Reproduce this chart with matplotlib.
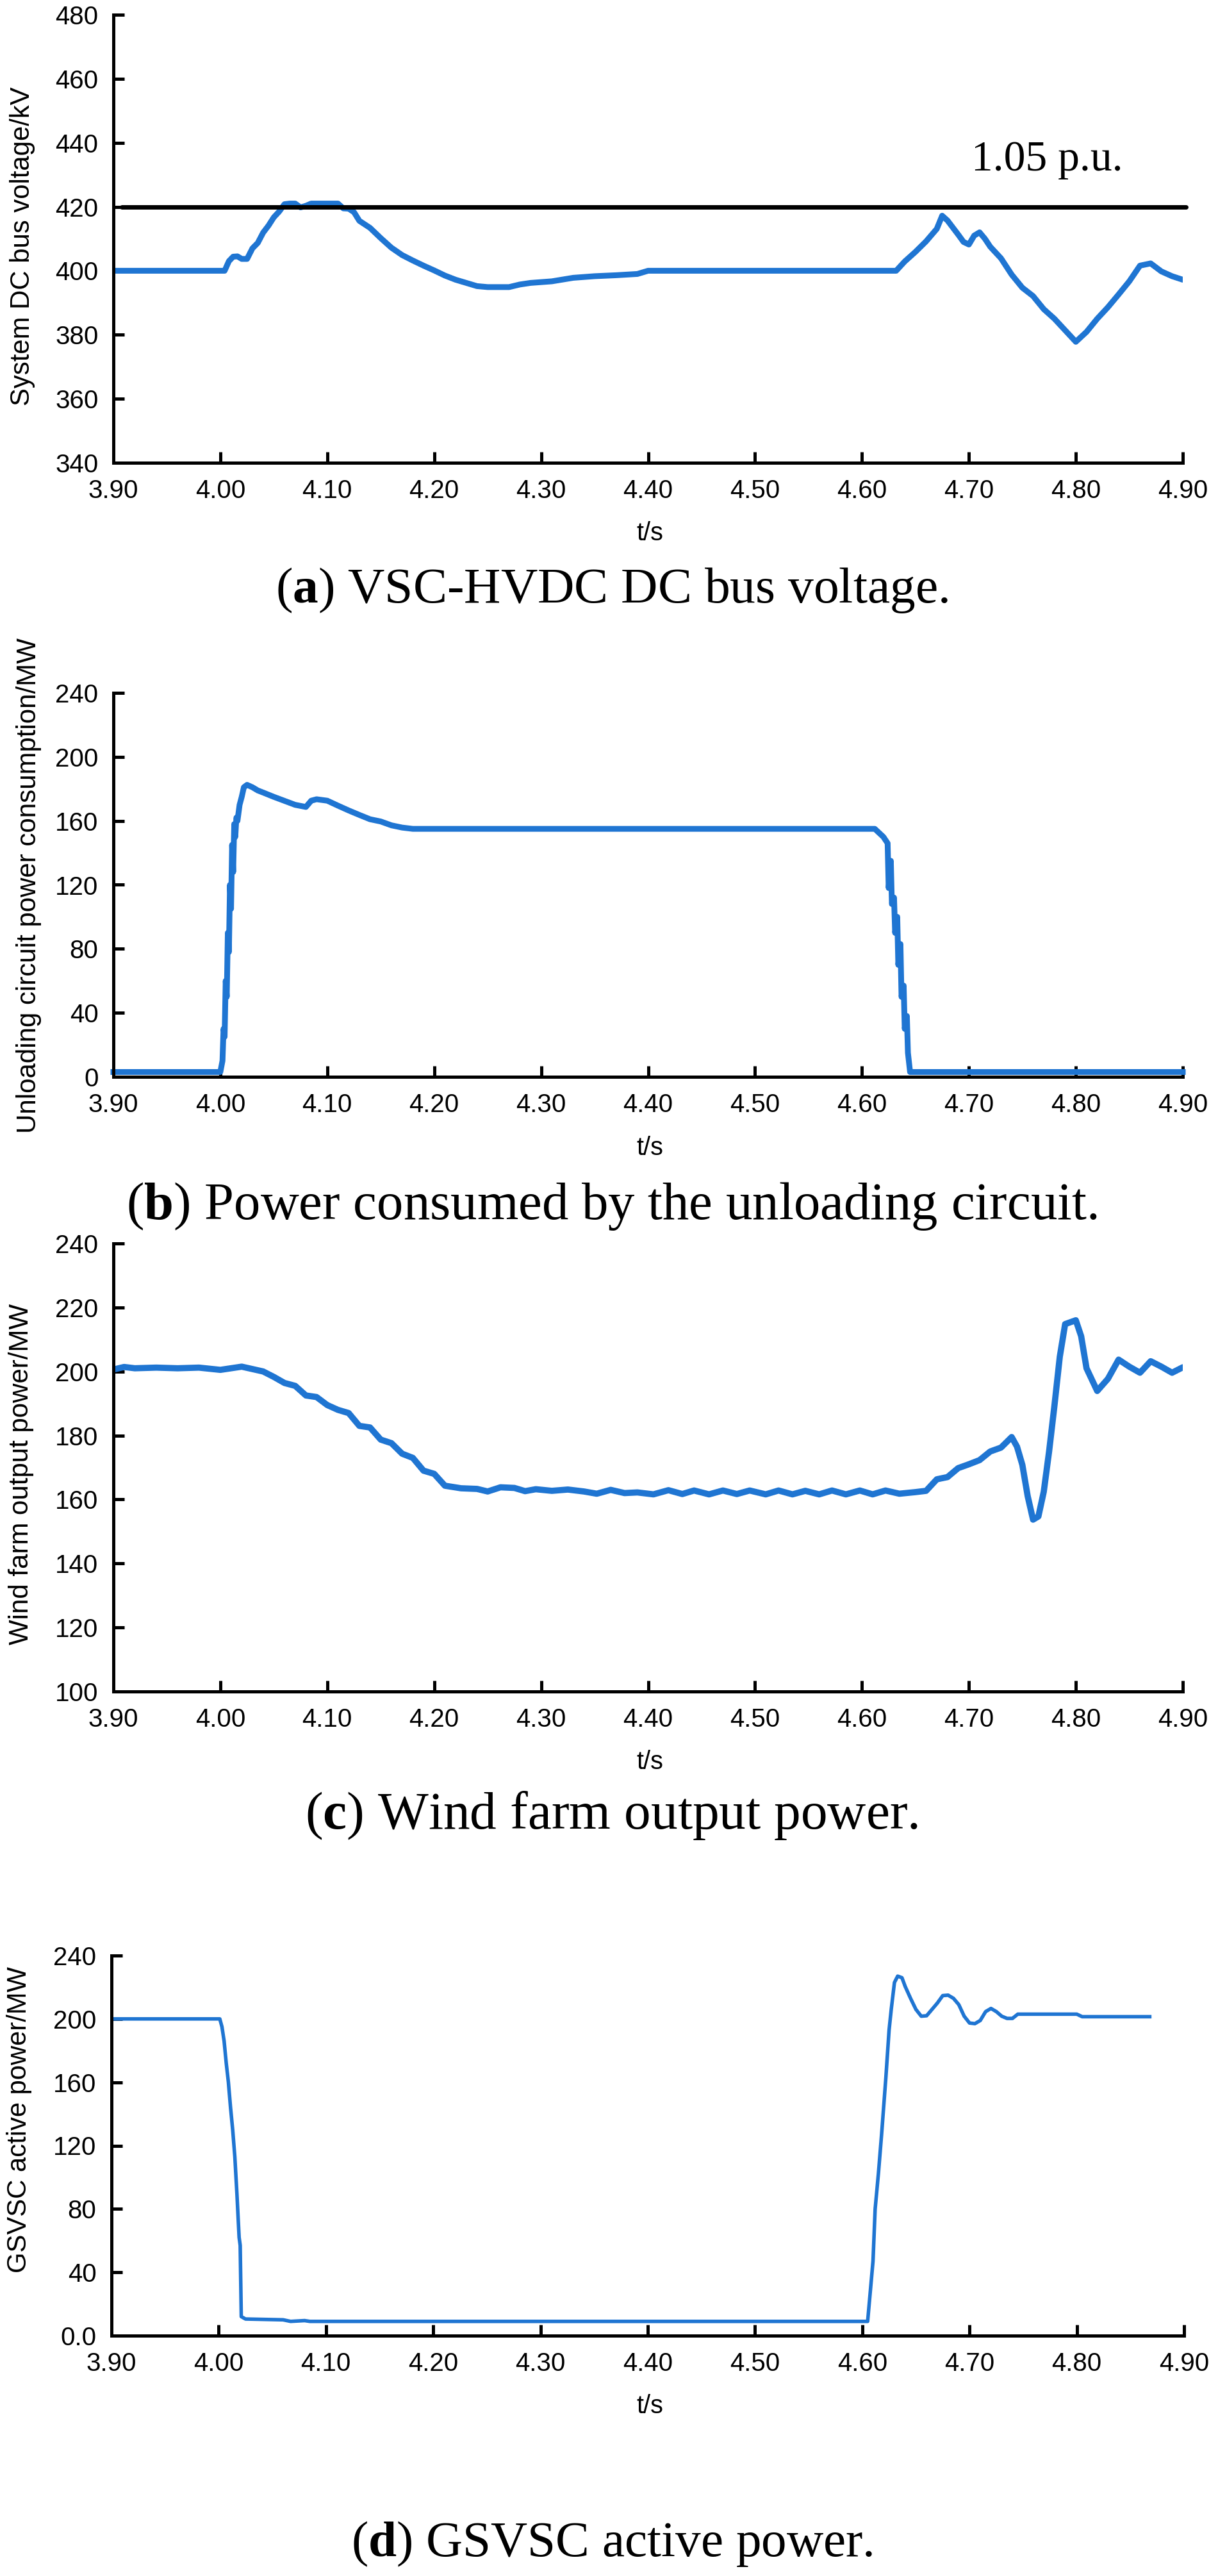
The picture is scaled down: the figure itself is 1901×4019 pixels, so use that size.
import matplotlib
matplotlib.use('Agg')
import matplotlib.pyplot as plt
import numpy as np

plt.rcParams['font.family'] = ['Liberation Sans', 'DejaVu Sans']
plt.rcParams['mathtext.fontset'] = 'custom'
plt.rcParams['mathtext.rm'] = 'Liberation Serif'
plt.rcParams['mathtext.bf'] = 'Liberation Serif:bold'

# (a) DC bus voltage, kV
t_a = [3.90, 4.004, 4.008, 4.012, 4.016, 4.020, 4.025, 4.030, 4.035, 4.040, 4.045, 4.050, 4.055,
       4.060, 4.065, 4.070, 4.075, 4.080, 4.085, 4.100, 4.110, 4.115, 4.120, 4.125, 4.130, 4.140,
       4.150, 4.160, 4.170, 4.180, 4.190, 4.200, 4.210, 4.220, 4.230, 4.240, 4.250, 4.270, 4.280,
       4.290, 4.310, 4.330, 4.350, 4.370, 4.390, 4.400, 4.632, 4.640, 4.650, 4.660, 4.670, 4.675,
       4.680, 4.690, 4.695, 4.700, 4.705, 4.710, 4.715, 4.720, 4.730, 4.740, 4.750, 4.760, 4.770,
       4.780, 4.790, 4.800, 4.810, 4.820, 4.830, 4.840, 4.850, 4.860, 4.870, 4.880, 4.890, 4.900]
v_a = [400, 400, 403, 404.4, 404.5, 403.7, 403.7, 407, 408.7, 411.9, 414.1, 416.7, 418.5,
       420.8, 421, 421, 419.8, 420.3, 421, 421, 421, 419.5, 419.4, 418.3, 415.6, 413.4,
       410.2, 407.2, 404.9, 403.2, 401.6, 400.1, 398.5, 397.2, 396.2, 395.2, 394.9, 394.9, 395.7,
       396.2, 396.7, 397.8, 398.3, 398.6, 399, 400, 400, 402.9, 405.9, 409.2, 413.1, 417.2,
       415.7, 411.3, 409, 408.2, 411, 412, 410, 407.5, 403.9, 398.8, 394.7, 392.1, 388,
       385, 381.4, 377.8, 380.9, 385, 388.6, 392.6, 396.7, 401.6, 402.3, 399.8, 398.3, 397.2]
limit_a = 420

# (b) unloading circuit power, MW
t_b = [3.90, 4.000, 4.002, 4.003, 4.004, 4.005, 4.006, 4.007, 4.008, 4.009, 4.010, 4.011, 4.012,
       4.013, 4.014, 4.015, 4.016, 4.018, 4.020, 4.022, 4.025, 4.030, 4.035, 4.040, 4.050, 4.060,
       4.070, 4.080, 4.085, 4.090, 4.100, 4.110, 4.120, 4.130, 4.140, 4.150, 4.160, 4.170, 4.180,
       4.190, 4.612, 4.620, 4.624, 4.625, 4.627, 4.628, 4.630, 4.631, 4.633, 4.634, 4.636, 4.637,
       4.639, 4.640, 4.642, 4.643, 4.645, 4.900]
v_b = [3, 3, 10, 30, 25, 60, 50, 90, 78, 120, 105, 145, 128,
       158, 150, 162, 160, 170, 175, 181, 182.5, 181, 179, 177.7, 175, 172.5,
       170, 168.7, 172.6, 173.5, 172.6, 169.5, 166.5, 163.7, 161, 159.6, 157.2, 155.8, 155,
       155, 155, 150, 146, 118, 135, 108, 112, 90, 100, 70, 83, 50,
       57, 30, 38, 15, 3, 3]

# (c) wind farm output power, MW
t_c = [3.900, 3.910, 3.920, 3.940, 3.960, 3.980, 4.000, 4.020, 4.040, 4.050, 4.060, 4.070, 4.080,
       4.090, 4.100, 4.110, 4.120, 4.130, 4.140, 4.150, 4.160, 4.170, 4.180, 4.190, 4.200, 4.210,
       4.225, 4.240, 4.250, 4.262, 4.275, 4.285, 4.295, 4.310, 4.325, 4.340, 4.352, 4.365, 4.378,
       4.390, 4.405, 4.419, 4.432, 4.443, 4.457, 4.470, 4.483, 4.495, 4.510, 4.522, 4.535, 4.547,
       4.560, 4.572, 4.585, 4.598, 4.610, 4.622, 4.635, 4.650, 4.660,
       4.670, 4.680, 4.690, 4.700,
       4.710, 4.720, 4.730, 4.740, 4.745, 4.750, 4.755, 4.760, 4.765, 4.770, 4.775, 4.780, 4.785,
       4.790, 4.800, 4.805, 4.810, 4.820, 4.830, 4.840, 4.850, 4.860, 4.870, 4.880, 4.890, 4.900]
v_c = [200.6, 201.4, 201, 201.2, 201, 201.2, 200.5, 201.5, 200, 198.3, 196.4, 195.5, 192.5,
       192, 189.5, 188, 187, 183, 182.5, 178.7, 177.6, 174.3, 173, 169, 168, 164.3,
       163.5, 163.3, 162.5, 163.8, 163.6, 162.6, 163.2, 162.7, 163.1, 162.5, 161.8, 163.0, 162.0,
       162.2, 161.6, 162.9, 161.7, 162.8, 161.6, 162.8, 161.7, 162.8, 161.6, 162.8, 161.6, 162.7,
       161.6, 162.8, 161.6, 162.8, 161.6, 162.8, 161.8, 162.3, 162.7,
       166.3, 167, 169.8, 171,
       172.3, 175, 176.2, 179.5, 176.5, 170.8, 161, 153.7, 154.7, 162.4, 175, 189.3, 204.6,
       214.8, 216, 211, 201, 193.9, 197.7, 203.7, 201.5, 199.6, 203.2, 201.5, 199.6, 201.3]

# (d) GSVSC active power, MW
t_d = [3.900, 4.001, 4.003, 4.005, 4.007, 4.009, 4.011, 4.013, 4.015, 4.017, 4.019, 4.020, 4.021,
       4.025, 4.060, 4.067, 4.080, 4.085, 4.605, 4.610, 4.612, 4.615, 4.618, 4.620, 4.622, 4.625,
       4.627, 4.630, 4.633, 4.637, 4.640, 4.645, 4.650, 4.655, 4.660, 4.665, 4.670, 4.675, 4.680,
       4.685, 4.690, 4.695, 4.700, 4.705, 4.710, 4.715, 4.720, 4.725, 4.730, 4.735, 4.740, 4.745,
       4.800, 4.805, 4.868]
v_d = [200, 200, 195, 186, 172, 160, 144, 130, 113, 89, 62, 57, 12,
       10.5, 10, 9, 9.5, 9, 9, 47, 80, 102, 127, 145, 163, 193,
       206, 223, 227, 226, 220.5, 213, 206, 201.7, 202, 206, 210, 214.7, 215,
       213, 209, 201.7, 197.4, 197, 199, 204.6, 206.6, 204.6, 201.7, 200.3, 200.3, 203,
       203, 201.4, 201.4]

x_ticks = [3.90, 4.00, 4.10, 4.20, 4.30, 4.40, 4.50, 4.60, 4.70, 4.80, 4.90]

ylabels = ['System DC bus voltage/kV', 'Unloading circuit power consumption/MW',
           'Wind farm output power/MW', 'GSVSC active power/MW']
captions = [r'($\mathbf{a}$) VSC-HVDC DC bus voltage.',
            r'($\mathbf{b}$) Power consumed by the unloading circuit.',
            r'($\mathbf{c}$) Wind farm output power.',
            r'($\mathbf{d}$) GSVSC active power.']

BLUE = '#1f75d2'
W, H = 1901, 4019

fig = plt.figure(figsize=(W / 100, H / 100), dpi=100)


def px_axes(left, right, top, bottom):
    return fig.add_axes([left / W, 1 - bottom / H, (right - left) / W, (bottom - top) / H])


def style(ax, yticks, ylim, ylabels_txt=None):
    ax.set_xlim(3.90, 4.90)
    ax.set_ylim(*ylim)
    ax.set_xticks(x_ticks)
    ax.set_xticklabels(['%.2f' % x for x in x_ticks])
    ax.set_yticks(yticks)
    if ylabels_txt:
        ax.set_yticklabels(ylabels_txt)
    for s in ['top', 'right']:
        ax.spines[s].set_visible(False)
    for s in ['left', 'bottom']:
        ax.spines[s].set_linewidth(3.6)
    ax.tick_params(direction='in', length=12, width=3.6, labelsize=29)
    ax.tick_params(axis='x', pad=18)
    ax.tick_params(axis='y', pad=17)


# panel a
ax1 = px_axes(177, 1846, 23, 722)
ax1.plot(t_a, v_a, color=BLUE, lw=6.5, solid_joinstyle='round', solid_capstyle='round')
ax1.plot([3.908, 4.903], [limit_a, limit_a], color='black', lw=5, clip_on=False,
         solid_capstyle='round')
pu = ax1.text(4.702, 431.3, '1.05 p.u.', family='Liberation Serif', fontsize=49)
style(ax1, range(340, 481, 20), (340, 480))

# panel b
ax2 = px_axes(177, 1846, 1081, 1680)
ax2.plot(t_b, v_b, color=BLUE, lw=6.5, solid_joinstyle='round', clip_on=False)
style(ax2, range(0, 241, 40), (0, 240))

# panel c
ax3 = px_axes(177, 1846, 1940, 2639)
ax3.plot(t_c, v_c, color=BLUE, lw=7.0, solid_joinstyle='round', solid_capstyle='round')
style(ax3, range(100, 241, 20), (100, 240))

# panel d
ax4 = px_axes(174, 1848, 3051, 3644)
ax4.plot(t_d, v_d, color=BLUE, lw=4.0, solid_joinstyle='round')
style(ax4, range(0, 241, 40), (0, 240), ['0.0', '40', '80', '120', '160', '200', '240'])

fitted = [(pu, 236)]

# y labels (centre x, centre y, length in px)
for (xc, yc, ln), lab in zip([(35, 384, 498), (45, 1382, 772), (33, 2300, 532), (30, 3307, 478)], ylabels):
    t = fig.text(xc / W, 1 - yc / H, lab, rotation=90, ha='center', va='center', fontsize=24)
    fitted.append((t, ln))

# x labels
for yb in [843, 1802, 2760, 3765]:
    t = fig.text(1014 / W, 1 - yb / H, 't/s', ha='center', va='baseline', fontsize=24)
    fitted.append((t, 42))

# captions
for (yb, ln), cap in zip([(940, 1049), (1902, 1515), (2853, 956), (3988, 814)], captions):
    t = fig.text(955 / W, 1 - yb / H, cap, ha='center', va='baseline', fontsize=58,
                 family='Liberation Serif')
    fitted.append((t, ln))

# scale text sizes so their lengths match the reference
fig.canvas.draw()
r = fig.canvas.get_renderer()
for t, ln in fitted:
    bb = t.get_window_extent(r)
    size = max(bb.width, bb.height) if t.get_rotation() else bb.width
    t.set_fontsize(t.get_fontsize() * ln / size)

fig.savefig('out.png', dpi=100)
